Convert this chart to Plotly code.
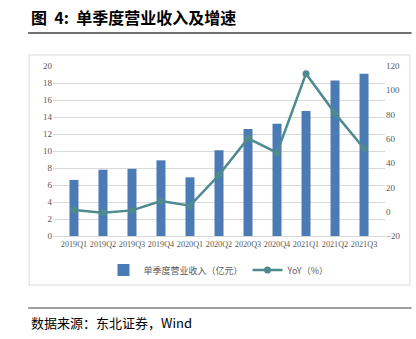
import plotly.graph_objects as go

quarters = ["2019Q1", "2019Q2", "2019Q3", "2019Q4", "2020Q1", "2020Q2",
            "2020Q3", "2020Q4", "2021Q1", "2021Q2", "2021Q3"]
revenue = [6.6, 7.8, 7.9, 8.9, 6.9, 10.1, 12.6, 13.2, 14.7, 18.3, 19.1]
yoy = [1.4, -0.8, 1.1, 8.8, 5.0, 30.2, 60.4, 48.6, 113.7, 81.0, 52.0]

BAR_COLOR = "#4a7bb5"
LINE_COLOR = "#4e8a8e"
TICK_FONT = dict(family="Liberation Serif, Noto Sans CJK SC", size=9, color="#595959")
X_TICK_FONT = dict(family="Liberation Serif, Noto Sans CJK SC", size=8.2, color="#595959")

fig = go.Figure()
fig.add_trace(go.Bar(
    x=quarters, y=revenue, name="单季度营业收入（亿元）",
    marker=dict(color=BAR_COLOR, line=dict(width=0)), width=0.31, yaxis="y",
))
fig.add_trace(go.Scatter(
    x=quarters, y=yoy, name="YoY（%）", mode="lines+markers",
    line=dict(color=LINE_COLOR, width=2.5),
    marker=dict(color=LINE_COLOR, size=7), yaxis="y2",
))

shapes = [
    # outer chart frame
    dict(type="rect", xref="paper", yref="paper", x0=-0.072, x1=1.075, y0=-0.288, y1=1.065,
         line=dict(color="#d9d9d9", width=1), layer="below"),
    # rule under the heading
    dict(type="line", xref="paper", yref="paper", x0=-0.075, x1=1.08, y0=1.194, y1=1.194,
         line=dict(color="#404040", width=1.5)),
    # rule above the source note
    dict(type="line", xref="paper", yref="paper", x0=-0.075, x1=1.08, y0=-0.4235, y1=-0.4235,
         line=dict(color="#404040", width=1.2)),
]

annotations = [
    dict(text="<b>图  4:  单季度营业收入及增速</b>", xref="paper", yref="paper",
         x=-0.072, y=1.29, xanchor="left", yanchor="middle", showarrow=False,
         font=dict(family="Noto Sans CJK SC", size=16, color="#000000")),
    dict(text="数据来源：东北证券，Wind", xref="paper", yref="paper",
         x=-0.072, y=-0.506, xanchor="left", yanchor="middle", showarrow=False,
         font=dict(family="Noto Sans CJK SC, Liberation Serif", size=13, color="#000000")),
]

fig.update_layout(
    width=416, height=339,
    margin=dict(l=53, r=31, t=66, b=103),
    paper_bgcolor="white", plot_bgcolor="white",
    showlegend=True,
    legend=dict(orientation="h", x=0.5, xanchor="center", y=-0.2, yanchor="middle",
                font=dict(family="Noto Sans CJK SC", size=9, color="#595959"),
                itemwidth=30, tracegroupgap=0, bgcolor="rgba(0,0,0,0)"),
    xaxis=dict(tickfont=X_TICK_FONT, showgrid=False, showline=True, linecolor="#d9d9d9",
               ticks="", tickangle=0),
    yaxis=dict(range=[0, 20], dtick=2, tickfont=TICK_FONT, showgrid=True,
               gridcolor="#d9d9d9", gridwidth=1, zeroline=False, ticks="", showline=False),
    yaxis2=dict(range=[-20, 120], dtick=20, tickfont=TICK_FONT, overlaying="y", side="right",
                showgrid=False, zeroline=False, ticks="", showline=False),
    bargap=0.69,
    shapes=shapes, annotations=annotations,
)

fig.write_html("out.html")
